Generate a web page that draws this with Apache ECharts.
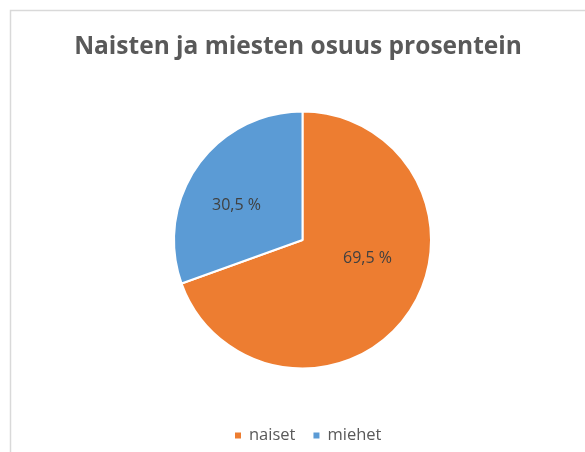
<!DOCTYPE html>
<html>
<head>
<meta charset="utf-8">
<script src="https://cdn.jsdelivr.net/npm/echarts@6/dist/echarts.min.js"></script>
<style>
html,body{margin:0;padding:0;background:#fff;}
#chart{width:585px;height:452px;}
</style>
</head>
<body>
<div id="chart"></div>
<script>
const titleText = 'Naisten ja miesten osuus prosentein';
const categories = ['naiset', 'miehet'];
const values = [69.5, 30.5];
const colors = ['#ED7D31', '#5B9BD5'];
const labelOffsets = [[10, -20], [-11, 4]];

const chart = echarts.init(document.getElementById('chart'), null, {renderer: 'canvas'});
const font = '"Open Sans", "Noto Sans", sans-serif';
chart.setOption({
  animation: false,
  backgroundColor: '#fff',
  graphic: [{
    type: 'rect',
    shape: {x: 10.5, y: 10.5, width: 600, height: 460},
    style: {fill: 'none', stroke: '#d9d9d9', lineWidth: 1.5},
    silent: true
  }],
  title: {
    text: titleText,
    left: 293, top: 30, textAlign: 'center',
    textStyle: {fontFamily: font, fontSize: 24.5, fontWeight: 'bold', color: '#595959'}
  },
  legend: {
    data: categories,
    top: 422, left: 228,
    icon: 'rect', itemWidth: 8, itemHeight: 8, itemGap: 16,
    textStyle: {fontFamily: font, fontSize: 16.5, color: '#595959', padding: [0, 0, 0, 2]}
  },
  series: [{
    type: 'pie',
    center: [302.5, 240],
    radius: 128.5,
    startAngle: 90,
    clockwise: true,
    itemStyle: {borderColor: '#fff', borderWidth: 2},
    label: {
      position: 'inside',
      fontFamily: font, fontSize: 16, color: '#404040',
      formatter: p => String(p.value).replace('.', ',') + ' %'
    },
    labelLine: {show: false},
    emphasis: {disabled: true},
    data: categories.map((c, i) => ({
      name: c, value: values[i],
      itemStyle: {color: colors[i]},
      label: {offset: labelOffsets[i]}
    }))
  }]
});
</script>
</body>
</html>
